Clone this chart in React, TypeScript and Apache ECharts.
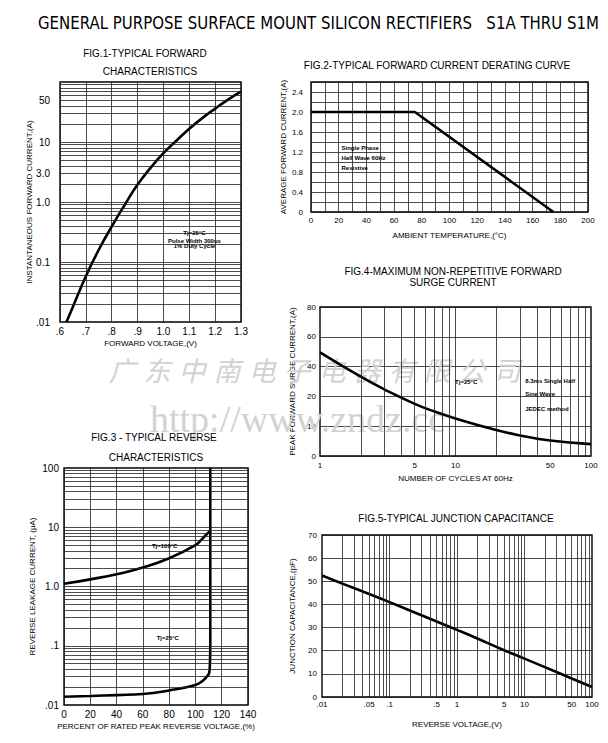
import React, { useEffect, useRef } from 'react';
import * as echarts from 'echarts';

const FONT = '"Liberation Sans", Arial, Helvetica, sans-serif';

// ---------- Fig.1 Typical forward characteristics ----------
const fig1Voltage = [0.625, 0.65, 0.7, 0.75, 0.8, 0.85, 0.9, 0.95, 1.0, 1.05, 1.1, 1.15, 1.2, 1.25, 1.3];
const fig1Current = [0.01, 0.018, 0.058, 0.16, 0.39, 0.89, 1.95, 3.7, 6.5, 10.5, 16.6, 25, 36, 51, 69];
const fig1XTickLabels = ['.6', '.7', '.8', '.9', '1.0', '1.1', '1.2', '1.3'];
const fig1YTickValues = [0.01, 0.1, 1, 3, 10, 50];
const fig1YTickLabels = ['.01', '0.1', '1.0', '3.0', '10', '50'];

// ---------- Fig.2 Forward current derating ----------
const fig2Temp = [0, 75, 175];
const fig2Current = [2.0, 2.0, 0];
const fig2XTickLabels = ['0', '20', '40', '60', '80', '100', '120', '140', '160', '180', '200'];
const fig2YTickLabels = ['0', '0.4', '0.8', '1.2', '1.6', '2.0', '2.4'];

// ---------- Fig.3 Typical reverse characteristics ----------
const fig3Pct100 = [0, 20, 40, 60, 80, 100, 105, 108, 111];
const fig3Leak100 = [1.11, 1.32, 1.61, 2.09, 3.0, 5.0, 6.3, 7.4, 8.6];
const fig3Pct25 = [0, 20, 40, 60, 80, 100, 105, 108, 110.5, 111, 111.3, 111.3];
const fig3Leak25 = [0.0138, 0.0142, 0.0147, 0.0153, 0.0176, 0.0218, 0.025, 0.029, 0.035, 0.048, 0.1, 100];
const fig3XTickLabels = ['0', '20', '40', '60', '80', '100', '120', '140'];
const fig3YTickValues = [0.01, 0.1, 1, 10, 100];
const fig3YTickLabels = ['.01', '.1', '1.0', '10', '100'];

// ---------- Fig.4 Max non-repetitive forward surge current ----------
const fig4Cycles = [1, 2, 3, 5, 7, 10, 20, 30, 50, 100];
const fig4Surge = [34.8, 26.6, 22.3, 17.5, 14.9, 12.6, 8.7, 6.9, 5.2, 4.0];
const fig4XTickValues = [1, 5, 10, 50, 100];
const fig4XTickLabels = ['1', '5', '10', '50', '100'];
const fig4YTickLabels = ['0', '10', '20', '40', '60', '80'];

// ---------- Fig.5 Typical junction capacitance ----------
const fig5Voltage = [0.01, 0.02, 0.05, 0.1, 0.2, 0.5, 1, 2, 5, 10, 20, 50, 100];
const fig5Cap = [52.5, 49, 44.5, 41, 37.4, 32.6, 29, 25.3, 20.2, 16.6, 12.9, 8, 4.3];
const fig5XTickValues = [0.01, 0.05, 0.1, 0.5, 1, 5, 10, 50, 100];
const fig5XTickLabels = ['.01', '.05', '.1', '.5', '1', '5', '10', '50', '100'];

const TITLE = 'GENERAL PURPOSE SURFACE MOUNT SILICON RECTIFIERS   S1A THRU S1M';
const WATERMARK_CN = '广东中南电子电器有限公司';
const WATERMARK_URL = 'http://www.zndz.cc';

const zip = (xs: number[], ys: number[]) => xs.map((x, i) => [x, ys[i]]);

function logGridValues(min: number, max: number): number[] {
  const out: number[] = [];
  const d0 = Math.round(Math.log10(min));
  const d1 = Math.round(Math.log10(max));
  for (let d = d0; d < d1; d++) {
    for (let k = 1; k <= 9; k++) {
      const v = k * Math.pow(10, d);
      if (v > min * 1.0001 && v < max * 0.9999) out.push(v);
    }
  }
  return out;
}

const GRID_LINE = { color: '#1e1e1e', width: 0.8, type: 'solid' as const };
const CURVE = { color: '#000', width: 2.6 };

function gridMarkLine(dim: 'xAxis' | 'yAxis', values: number[]) {
  return {
    silent: true,
    symbol: ['none', 'none'],
    label: { show: false },
    emphasis: { disabled: true },
    lineStyle: GRID_LINE,
    animation: false,
    data: values.map((v) => ({ [dim]: v })),
  };
}

function nameStyle(size = 8) {
  return { fontSize: size, color: '#000', fontFamily: FONT };
}

function buildOption(): any {
  const grid = (left: number, top: number, width: number, height: number) => ({
    left, top, width, height,
    show: true,
    borderColor: '#000',
    borderWidth: 1.4,
    backgroundColor: 'transparent',
    containLabel: false,
    outerBoundsMode: 'none',
  });
  const common = {
    axisTick: { show: false },
    axisLine: { show: false },
  };
  return {
    animation: false,
    backgroundColor: '#fff',
    textStyle: { fontFamily: FONT, color: '#000' },
    grid: [
      grid(60, 82, 181, 240),   // fig1
      grid(311, 82, 277, 130),  // fig2
      grid(64, 468, 184, 237),  // fig3
      grid(320, 307, 271, 149), // fig4
      grid(322, 535, 270, 162), // fig5
    ],
    xAxis: [
      {
        ...common, gridIndex: 0, type: 'value', min: 0.6, max: 1.3, interval: 0.1,
        splitLine: { show: true, lineStyle: GRID_LINE },
        axisLabel: {
          fontSize: 10, color: '#000', margin: 4,
          formatter: (v: number) => fig1XTickLabels[Math.round((v - 0.6) / 0.1)] ?? '',
        },
        name: 'FORWARD VOLTAGE,(V)', nameLocation: 'middle', nameGap: 17, nameTextStyle: nameStyle(8),
      },
      {
        ...common, gridIndex: 1, type: 'value', min: 0, max: 200, interval: 10,
        splitLine: { show: true, lineStyle: GRID_LINE },
        axisLabel: {
          fontSize: 8, color: '#000', margin: 4,
          formatter: (v: number) => (Math.round(v) % 20 === 0 ? fig2XTickLabels[Math.round(v / 20)] ?? '' : ''),
        },
        name: 'AMBIENT TEMPERATURE,(°C)', nameLocation: 'middle', nameGap: 19, nameTextStyle: nameStyle(8),
      },
      {
        ...common, gridIndex: 2, type: 'value', min: 0, max: 140, interval: 20,
        splitLine: { show: true, lineStyle: GRID_LINE },
        axisLabel: {
          fontSize: 10, color: '#000', margin: 4,
          formatter: (v: number) => fig3XTickLabels[Math.round(v / 20)] ?? '',
        },
        name: 'PERCENT OF RATED PEAK REVERSE VOLTAGE,(%)', nameLocation: 'middle', nameGap: 17, nameTextStyle: nameStyle(8),
      },
      {
        ...common, gridIndex: 3, type: 'log', logBase: 10, min: 1, max: 100,
        splitLine: { show: false }, axisLabel: { show: false },
        name: 'NUMBER OF CYCLES AT 60Hz', nameLocation: 'middle', nameGap: 18, nameTextStyle: nameStyle(8),
      },
      {
        ...common, gridIndex: 4, type: 'log', logBase: 10, min: 0.01, max: 100,
        splitLine: { show: false }, axisLabel: { show: false },
        name: 'REVERSE VOLTAGE,(V)', nameLocation: 'middle', nameGap: 23, nameTextStyle: nameStyle(8),
      },
    ],
    yAxis: [
      {
        ...common, gridIndex: 0, type: 'log', logBase: 10, min: 0.01, max: 100,
        splitLine: { show: false }, axisLabel: { show: false },
        name: 'INSTANTANEOUS FORWARD CURRENT,(A)', nameLocation: 'middle', nameGap: 27, nameRotate: 90,
        nameTextStyle: nameStyle(8),
      },
      {
        ...common, gridIndex: 1, type: 'value', min: 0, max: 2.6, interval: 0.2,
        splitLine: { show: true, lineStyle: GRID_LINE },
        axisLabel: {
          fontSize: 8, color: '#000', margin: 8,
          formatter: (v: number) => {
            const i = Math.round(v / 0.2);
            return i % 2 === 0 ? fig2YTickLabels[i / 2] ?? '' : '';
          },
        },
        name: 'AVERAGE FORWARD CURRENT,(A)', nameLocation: 'middle', nameGap: 20, nameRotate: 90,
        nameTextStyle: nameStyle(8),
      },
      {
        ...common, gridIndex: 2, type: 'log', logBase: 10, min: 0.01, max: 100,
        splitLine: { show: false }, axisLabel: { show: false },
        name: 'REVERSE LEAKAGE CURRENT, (µA)', nameLocation: 'middle', nameGap: 28, nameRotate: 90,
        nameTextStyle: nameStyle(8),
      },
      {
        ...common, gridIndex: 3, type: 'value', min: 0, max: 50, interval: 10,
        splitLine: { show: true, lineStyle: GRID_LINE },
        axisLabel: {
          fontSize: 8, color: '#000', margin: 4,
          formatter: (v: number) => fig4YTickLabels[Math.round(v / 10)] ?? '',
        },
        name: 'PEAK FORWARD SURGE CURRENT,(A)', nameLocation: 'middle', nameGap: 24, nameRotate: 90,
        nameTextStyle: nameStyle(8),
      },
      {
        ...common, gridIndex: 4, type: 'value', min: 0, max: 70, interval: 10,
        splitLine: { show: true, lineStyle: GRID_LINE },
        axisLabel: { fontSize: 8, color: '#000', margin: 5 },
        name: 'JUNCTION CAPACITANCE,(pF)', nameLocation: 'middle', nameGap: 26, nameRotate: 90,
        nameTextStyle: nameStyle(8),
      },
    ],
    series: [
      {
        name: 'Forward characteristics', type: 'line', xAxisIndex: 0, yAxisIndex: 0,
        data: zip(fig1Voltage, fig1Current), showSymbol: false, smooth: true, lineStyle: CURVE,
        markLine: gridMarkLine('yAxis', logGridValues(0.01, 100)),
      },
      {
        name: 'Derating', type: 'line', xAxisIndex: 1, yAxisIndex: 1,
        data: zip(fig2Temp, fig2Current), showSymbol: false, lineStyle: CURVE,
      },
      {
        name: 'Tj=100°C', type: 'line', xAxisIndex: 2, yAxisIndex: 2,
        data: zip(fig3Pct100, fig3Leak100), showSymbol: false, smooth: true, lineStyle: CURVE,
        markLine: gridMarkLine('yAxis', logGridValues(0.01, 100)),
      },
      {
        name: 'Tj=25°C', type: 'line', xAxisIndex: 2, yAxisIndex: 2,
        data: zip(fig3Pct25, fig3Leak25), showSymbol: false, smooth: true, lineStyle: CURVE,
      },
      {
        name: 'Surge', type: 'line', xAxisIndex: 3, yAxisIndex: 3,
        data: zip(fig4Cycles, fig4Surge), showSymbol: false, smooth: true, lineStyle: CURVE,
        markLine: gridMarkLine('xAxis', logGridValues(1, 100)),
      },
      {
        name: 'Capacitance', type: 'line', xAxisIndex: 4, yAxisIndex: 4,
        data: zip(fig5Voltage, fig5Cap), showSymbol: false, smooth: true, lineStyle: CURVE,
        markLine: gridMarkLine('xAxis', logGridValues(0.01, 100)),
      },
    ],
  };
}

function txt(text: string, x: number, y: number, o: any = {}) {
  const align = o.align ?? 'center';
  const vAlign = o.vAlign ?? 'middle';
  return {
    type: 'text',
    x, y,
    z: o.z ?? 10,
    rotation: o.rotation ?? 0,
    scaleX: o.scaleX ?? 1,
    silent: true,
    style: {
      text,
      fill: o.fill ?? '#000',
      fontSize: o.size ?? 10,
      fontFamily: o.family ?? FONT,
      fontWeight: o.weight ?? 'normal',
      fontStyle: o.style ?? 'normal',
      align, textAlign: align,
      verticalAlign: vAlign, textVerticalAlign: vAlign,
    },
  };
}

function buildGraphics(chart: any) {
  const px = (i: number, p: number[]) => chart.convertToPixel({ xAxisIndex: i, yAxisIndex: i }, p) as number[];
  const g: any[] = [];

  // watermark
  Array.from(WATERMARK_CN).forEach((ch, i) => {
    g.push(txt(ch, 122 + i * 35, 369, {
      size: 27, fill: '#d2d2d2', family: '"Noto Sans CJK SC", sans-serif', style: 'italic', z: 1,
    }));
  });
  g.push(txt(WATERMARK_URL, 150, 419, {
    size: 38, fill: '#d2d2d2', family: '"Liberation Serif", "DejaVu Serif", serif', align: 'left', z: 1,
  }));

  // page title
  g.push(txt(TITLE, 38, 23, {
    size: 18, scaleX: 0.925, family: '"Liberation Sans Narrow", "DejaVu Sans Condensed", sans-serif', align: 'left',
  }));

  // figure titles
  g.push(txt('FIG.1-TYPICAL FORWARD', 145, 53));
  g.push(txt('CHARACTERISTICS', 150, 71));
  g.push(txt('FIG.2-TYPICAL FORWARD CURRENT DERATING CURVE', 437, 65));
  g.push(txt('FIG.4-MAXIMUM NON-REPETITIVE FORWARD', 453, 271));
  g.push(txt('SURGE CURRENT', 453, 282));
  g.push(txt('FIG.3 - TYPICAL REVERSE', 154, 437));
  g.push(txt('CHARACTERISTICS', 156, 457));
  g.push(txt('FIG.5-TYPICAL JUNCTION CAPACITANCE', 456, 518));

  // log-axis tick labels
  fig1YTickValues.forEach((v, i) => {
    const p = px(0, [0.6, v]);
    g.push(txt(fig1YTickLabels[i], p[0] - 10, p[1], { align: 'right', size: 10 }));
  });
  fig3YTickValues.forEach((v, i) => {
    const p = px(2, [0, v]);
    g.push(txt(fig3YTickLabels[i], p[0] - 5, p[1], { align: 'right', size: 10 }));
  });
  fig4XTickValues.forEach((v, i) => {
    const p = px(3, [v, 0]);
    g.push(txt(fig4XTickLabels[i], p[0], p[1] + 5, { vAlign: 'top', size: 8 }));
  });
  fig5XTickValues.forEach((v, i) => {
    const p = px(4, [v, 0]);
    g.push(txt(fig5XTickLabels[i], p[0], p[1] + 3, { vAlign: 'top', size: 8 }));
  });

  // in-plot annotations (anchored to data coordinates)
  const ann = (i: number, s: string, x: number, y: number, align = 'center') => {
    const p = px(i, [x, y]);
    g.push(txt(s, p[0], p[1], { size: 6, weight: 'bold', align }));
  };
  ann(0, 'Tj=25°C', 1.12, 0.31);
  ann(0, 'Pulse Width 300us', 1.12, 0.224);
  ann(0, '1% Duty Cycle', 1.12, 0.186);
  ann(1, 'Single Phase', 22, 1.29, 'left');
  ann(1, 'Half Wave 60Hz', 22, 1.09, 'left');
  ann(1, 'Resistive', 22, 0.88, 'left');
  ann(2, 'Tj=100°C', 76.6, 4.9);
  ann(2, 'Tj=25°C', 79, 0.134);
  ann(3, 'Tj=25°C', 12, 25);
  ann(3, '8.3ms Single Half', 32.7, 25.2, 'left');
  ann(3, 'Sine Wave', 32.7, 20.7, 'left');
  ann(3, 'JEDEC method', 32.7, 15.8, 'left');

  return g;
}

export default function App() {
  const ref = useRef<HTMLDivElement>(null);
  useEffect(() => {
    if (!ref.current) return;
    const chart = echarts.init(ref.current, null, { renderer: 'svg' });
    chart.setOption(buildOption());
    chart.setOption({ graphic: { elements: buildGraphics(chart) } });
    return () => chart.dispose();
  }, []);
  return (
    <div
      ref={ref}
      style={{ position: 'fixed', left: 0, top: 0, width: 608, height: 743, background: '#fff' }}
    />
  );
}
